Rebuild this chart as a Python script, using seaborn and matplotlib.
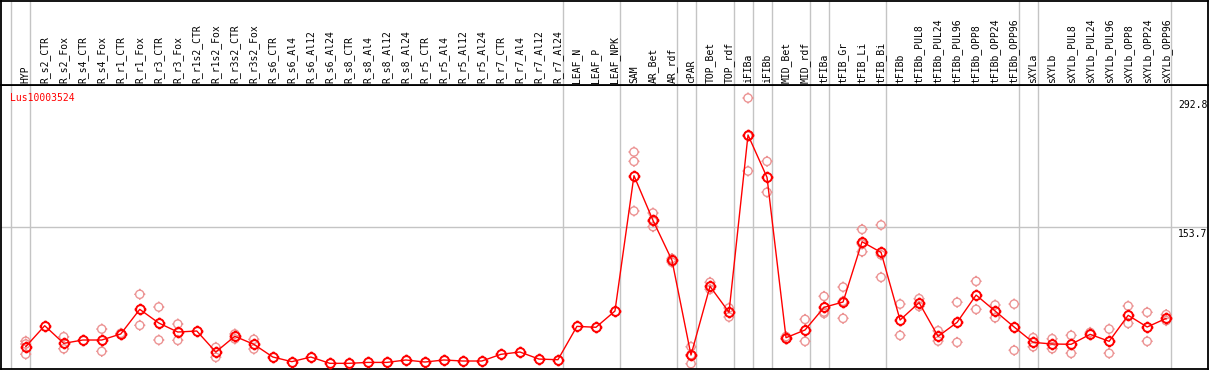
import numpy as np
import pandas as pd
import matplotlib
matplotlib.use('Agg')
import matplotlib.pyplot as plt
from matplotlib.path import Path
import seaborn as sns

# expression of one gene across samples (mean + replicates)
gene = "Lus10003524"
samples = ['HYP', 'R_s2_CTR', 'R_s2_Fox', 'R_s4_CTR', 'R_s4_Fox', 'R_r1_CTR', 'R_r1_Fox',
           'R_r3_CTR', 'R_r3_Fox', 'R_r1s2_CTR', 'R_r1s2_Fox', 'R_r3s2_CTR', 'R_r3s2_Fox',
           'R_s6_CTR', 'R_s6_Al4', 'R_s6_Al12', 'R_s6_Al24', 'R_s8_CTR', 'R_s8_Al4',
           'R_s8_Al12', 'R_s8_Al24', 'R_r5_CTR', 'R_r5_Al4', 'R_r5_Al12', 'R_r5_Al24',
           'R_r7_CTR', 'R_r7_Al4', 'R_r7_Al12', 'R_r7_Al24', 'LEAF_N', 'LEAF_P', 'LEAF_NPK',
           'SAM', 'AR_Bet', 'AR_rdf', 'cPAR', 'TOP_Bet', 'TOP_rdf', 'iFIBa', 'iFIBb',
           'MID_Bet', 'MID_rdf', 'tFIBa', 'tFIB_Gr', 'tFIB_Li', 'tFIB_Bi', 'tFIBb',
           'tFIBb_PUL8', 'tFIBb_PUL24', 'tFIBb_PUL96', 'tFIBb_OPP8', 'tFIBb_OPP24',
           'tFIBb_OPP96', 'sXYLa', 'sXYLb', 'sXYLb_PUL8', 'sXYLb_PUL24', 'sXYLb_PUL96',
           'sXYLb_OPP8', 'sXYLb_OPP24', 'sXYLb_OPP96']
mean_expr = [25.1, 47.7, 28.7, 32.3, 32.3, 38.8, 65.3,
             50.6, 40.9, 42.0, 19.4, 36.3, 27.7,
             14.0, 9.0, 14.0, 7.2, 7.2, 8.2,
             8.2, 10.8, 8.6, 10.8, 9.7, 9.7,
             16.9, 19.4, 11.8, 11.1, 47.0, 46.0, 63.5,
             209.2, 161.1, 118.1, 16.1, 90.1, 62.1, 253.0, 207.4,
             34.8, 43.1, 67.5, 73.2, 138.1, 126.6, 53.8,
             72.5, 36.2, 51.3, 80.7, 63.5,
             46.3, 29.8, 28.0, 27.7, 38.4, 30.9,
             58.9, 46.3, 55.6]
replicates = [[31, 28, 17], [], [35.8, 22.9], [], [44.1, 20.1], [39.5, 38.2], [81.5, 48.1],
              [67.8, 32.3], [49.5, 32.0], [], [24.4, 13.7], [38.8, 33.5], [33.0, 22.6],
              [], [], [], [], [], [],
              [], [], [], [], [], [],
              [], [], [], [], [], [], [],
              [234.7, 224.6, 171.2], [169.0, 154.3, 160], [120, 116], [25.1, 6.8, 16.5],
              [94.4, 86.9], [66.8, 57.1], [292.8, 214.2, 252], [224.6, 191.3],
              [36, 33.5], [54.5, 30.9], [79.3, 61.0, 62.5], [89.3, 55.6, 74],
              [151.4, 127.4, 135.5], [156.1, 99.8, 124], [71.0, 37.3],
              [76.8, 68.5], [42.3, 31.2], [72.9, 29.8], [95.5, 65.3], [70.0, 56.3],
              [71.0, 21.2], [34.8, 25.1], [33.7, 23.0], [37.3, 18.0], [40.5], [44.1, 18.0],
              [68.9, 50.2], [62.1, 30.9], [59.7, 53.2]]
# sample groups end after these indices
group_ends = [-1, 0, 28, 31, 34, 35, 37, 38, 39, 41, 42, 45, 52, 53, 60]
tick_values = [0, 153.7, 292.8]

pos = np.arange(len(samples))
df_mean = pd.DataFrame({'pos': pos, 'sample': samples, 'expr': mean_expr})
rows = [(i, v) for i, reps in enumerate(replicates) for v in reps]
df_rep = pd.DataFrame(rows, columns=['pos', 'expr'])

sns.set_style('white')
plt.rcParams['font.family'] = ['DejaVu Sans Mono']
plt.rcParams['text.color'] = 'black'

# open circle with four little ticks
stubs = [Path([(0, 1), (0, 1.35)], [Path.MOVETO, Path.LINETO]),
         Path([(0, -1), (0, -1.35)], [Path.MOVETO, Path.LINETO]),
         Path([(1, 0), (1.35, 0)], [Path.MOVETO, Path.LINETO]),
         Path([(-1, 0), (-1.35, 0)], [Path.MOVETO, Path.LINETO])]
ring = Path.make_compound_path(Path.unit_circle(), *stubs)

W, H = 1209, 370
fig = plt.figure(figsize=(W / 100, H / 100), dpi=100)
ax = fig.add_axes([1 / W, 1 / H, 1207 / W, 284 / H])
lab = fig.add_axes([1 / W, 285 / H, 1207 / W, 84.5 / H], sharex=ax)

xlim = (-1.3, 62.2)
grid = '#c4c4c4'
for a in (ax, lab):
    for e in group_ends:
        a.axvline(e + 0.25, color=grid, lw=1, zorder=0)
    for sp in a.spines.values():
        sp.set_color('black')
        sp.set_linewidth(1.3)
    a.tick_params(left=False, bottom=False, labelleft=False, labelbottom=False)

ax.axhline(tick_values[1], color=grid, lw=1, zorder=0)

sns.scatterplot(data=df_rep, x='pos', y='expr', ax=ax, marker=ring, s=64,
                facecolor='none', edgecolor='#ec9494', color='#ec9494',
                linewidth=1, zorder=2, clip_on=False)
sns.lineplot(data=df_mean, x='pos', y='expr', ax=ax, errorbar=None, color='red', lw=1,
             marker=ring, markersize=8.5, markerfacecolor='none', markeredgecolor='red',
             markeredgewidth=1.4, zorder=3, clip_on=False)

ax.set_xlim(*xlim)
ax.set_ylim(1.1, 306.8)
ax.set(xlabel='', ylabel='')
lab.set_ylim(0, 1)

for i, s in enumerate(samples):
    lab.annotate(s, xy=(i, 0), xytext=(0, 1.5), textcoords='offset points',
                 rotation=90, ha='center', va='bottom', fontsize=7, color='black')

ax.annotate(gene, xy=(0, 1), xycoords='axes fraction', xytext=(6.5, -9.5),
            textcoords='offset points', ha='left', va='center', color='red', fontsize=7)

for v in tick_values:
    if v == 0:
        ax.annotate('0', xy=(60.63, v), xytext=(0, 3), textcoords='offset points',
                    ha='left', va='bottom', fontsize=7, color='black')
    else:
        ax.annotate(f'{v:g}', xy=(60.63, v), xytext=(0, -1.5), textcoords='offset points',
                    ha='left', va='top', fontsize=7, color='black')

fig.savefig('out.png', dpi=100)
